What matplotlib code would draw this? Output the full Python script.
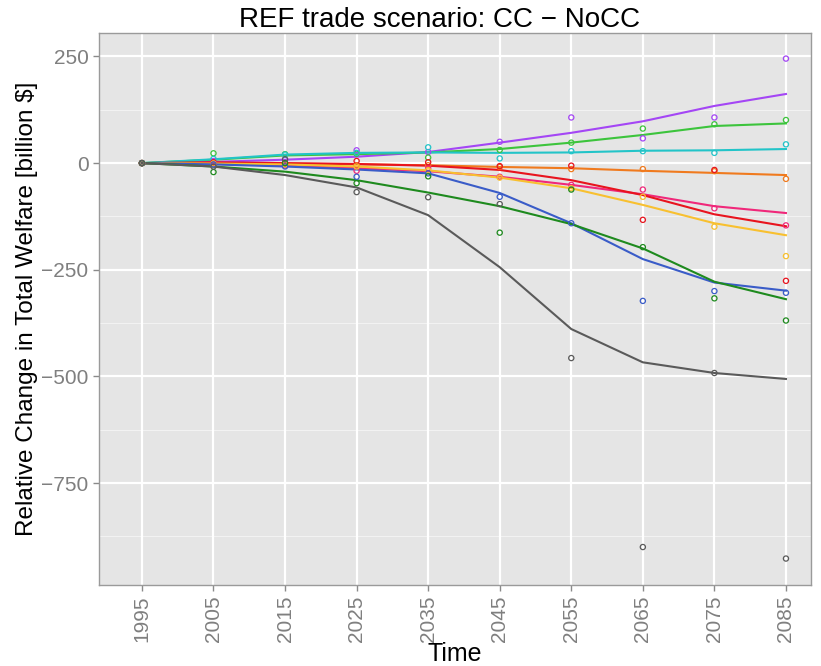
import numpy as np
import matplotlib
matplotlib.use("Agg")
import matplotlib.pyplot as plt

plt.rcParams['font.family'] = ['Liberation Sans', 'DejaVu Sans']

years = [1995, 2005, 2015, 2025, 2035, 2045, 2055, 2065, 2075, 2085]

# fitted lines per region
purple_line = [0, 3, 8, 15, 26, 48, 71, 98, 134, 162]
lime_line = [0, 8, 18, 21, 25, 33, 48, 66, 87, 93]
cyan_line = [0, 9, 20, 24, 25, 24, 25, 29, 30, 33]
orange_line = [0, 0, -1, -3, -5, -9, -12, -18, -23, -28]
red_line = [0, 2, 0, -2, -6, -16, -40, -75, -120, -148]
pink_line = [0, -2, -6, -12, -19, -32, -51, -73, -101, -117]
gold_line = [0, -1, -3, -8, -17, -34, -59, -98, -141, -169]
blue_line = [0, -3, -8, -15, -24, -70, -141, -225, -280, -299]
dkgreen_line = [0, -8, -20, -40, -69, -101, -143, -200, -278, -319]
gray_line = [0, -8, -28, -57, -122, -244, -389, -467, -492, -506]

# observed points per region
purple_pts = [0, 5, 8, 30, 26, 50, 107, 58, 107, 245]
lime_pts = [0, 23, 21, 22, 13, 31, 48, 81, 91, 101]
cyan_pts = [0, 10, 20, 24, 37, 11, 28, 28, 24, 44]
orange_pts = [0, 0, -1, -5, -5, -9, -14, -14, -19, -37]
red_pts = [0, 2, 0, 5, 2, -7, -6, -133, -16, -276]
pink_pts = [0, -2, -6, -18, -12, -32, -51, -62, -106, -146]
gold_pts = [0, -1, -3, -8, -17, -34, -59, -79, -149, -218]
blue_pts = [0, -3, -8, -32, -24, -79, -141, -323, -300, -304]
dkgreen_pts = [0, -21, 0, -47, -31, -163, -62, -197, -317, -369]
gray_pts = [0, -8, 9, -68, -80, -96, -457, -900, -492, -927]

series = [
    (purple_line, purple_pts, '#A446F5'),
    (lime_line, lime_pts, '#3CC43C'),
    (cyan_line, cyan_pts, '#22C4C8'),
    (orange_line, orange_pts, '#F07A1E'),
    (pink_line, pink_pts, '#F0287A'),
    (red_line, red_pts, '#E8141E'),
    (gold_line, gold_pts, '#F8C030'),
    (blue_line, blue_pts, '#3A5CC8'),
    (dkgreen_line, dkgreen_pts, '#1E8A1E'),
    (gray_line, gray_pts, '#5A5A5A'),
]

fig = plt.figure(figsize=(8.21, 6.66), dpi=100)
ax = fig.add_axes([99/821, 1 - 585/666, (811 - 99)/821, (585 - 33)/666])
ax.set_facecolor('#E5E5E5')

# ggplot-like grid
for v in [-875, -625, -375, -125, 125]:
    ax.axhline(v, color='#F2F2F2', lw=0.8, zorder=0)
for v in [-750, -500, -250, 0, 250]:
    ax.axhline(v, color='white', lw=1.6, zorder=0)
for yr in years:
    ax.axvline(yr, color='white', lw=1.6, zorder=0)

for line, pts, col in series:
    ax.plot(years, line, color=col, lw=1.5, zorder=3)
    ax.scatter(years, pts, s=14, facecolors='none', edgecolors=col,
               linewidths=0.9, zorder=4)

ax.set_xlim(1989, 2088.5)
ax.set_ylim(-989, 305)
ax.set_xticks(years)
ax.set_xticklabels([str(y) for y in years], rotation=90)
ax.set_yticks([-750, -500, -250, 0, 250])
ax.tick_params(axis='both', colors='#8A8A8A', labelcolor='#7F7F7F',
               labelsize=15, length=4, width=1)
for s in ax.spines.values():
    s.set_color('#9A9A9A')
    s.set_linewidth(1.0)

ax.set_xlabel('Time', fontsize=18, labelpad=0)
ax.set_ylabel('Relative Change in Total Welfare [billion $]', fontsize=17.5,
              labelpad=2)
fig.text(440/821, 1 - 20/666, 'REF trade scenario: CC \u2212 NoCC',
         ha='center', va='center', fontsize=20)

fig.savefig('out.png', dpi=100)
